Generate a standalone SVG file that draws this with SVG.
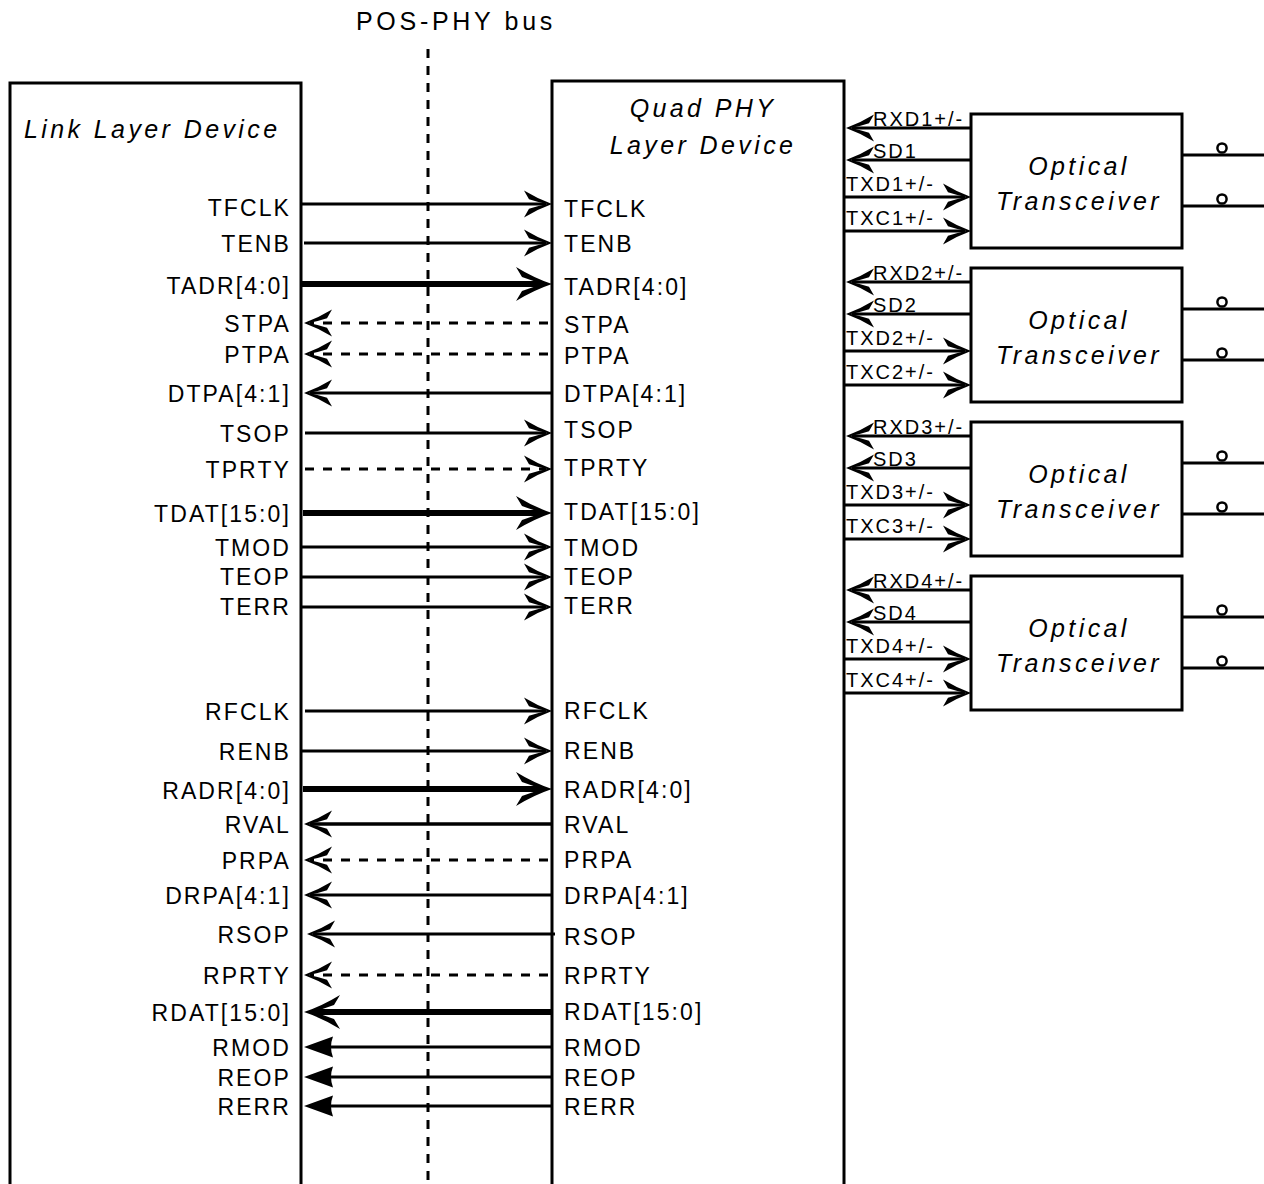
<svg xmlns="http://www.w3.org/2000/svg" width="1264" height="1184" viewBox="0 0 1264 1184">
<style>
text{font-family:"Liberation Sans",Arial,sans-serif;fill:#000}
.t{font-size:23px;letter-spacing:2.1px}
.l{text-anchor:end}
.ti{font-size:25px;font-style:italic;letter-spacing:3.4px}
.c{text-anchor:middle}
.s{font-size:20px;letter-spacing:2px}
.w{stroke:#000;stroke-width:3;fill:none}
.k{stroke-width:6}
.d{stroke-dasharray:9 9}
.box{fill:#fff;stroke:#000;stroke-width:3}
.ob{fill:#fff;stroke:#000;stroke-width:3}
.ring{fill:#fff;stroke:#000;stroke-width:2.5}
</style>
<defs>
<marker id="a" markerUnits="userSpaceOnUse" viewBox="-30 -15 38 30" refX="-6" refY="0" markerWidth="38" markerHeight="30" orient="auto"><path d="M0,0 Q-14,-5 -28,-13.5 L-23,-4.8 Q-13,-1.6 -5,0 Q-13,1.6 -23,4.8 L-28,13.5 Q-14,5 0,0Z"/></marker>
<marker id="b" markerUnits="userSpaceOnUse" viewBox="-38 -19 46 38" refX="-8" refY="0" markerWidth="46" markerHeight="38" orient="auto"><path d="M0,0 Q-18,-6 -36,-17 L-30,-7 Q-18,-2.5 -8,0 Q-18,2.5 -30,7 L-36,17 Q-18,6 0,0Z"/></marker>
<marker id="f" markerUnits="userSpaceOnUse" viewBox="-31 -12 39 24" refX="-6" refY="0" markerWidth="39" markerHeight="24" orient="auto"><path d="M0,0 L-29,-10.5 Q-25,0 -29,10.5Z"/></marker>
</defs>

<g id="bus">
<text x="456" y="30" text-anchor="middle" style="font-size:25px;letter-spacing:3.7px">POS-PHY bus</text>
<line x1="428" y1="49" x2="428" y2="1184" class="w" style="stroke-dasharray:9 8"/>
</g>

<g id="link-layer-device">
<rect class="box" x="10" y="83" width="291" height="1130"/>
<text class="ti" x="24" y="138">Link Layer Device</text>
</g>

<g id="quad-phy-layer-device">
<rect class="box" x="552" y="81" width="292" height="1132"/>
<text class="ti c" x="703" y="117">Quad PHY</text>
<text class="ti c" x="703" y="154">Layer Device</text>
</g>

<g id="optical-transceiver-1">
<rect class="ob" x="971" y="114" width="211" height="134"/>
<text class="ti c" x="1079" y="175">Optical</text>
<text class="ti c" x="1079" y="210">Transceiver</text>
</g>
<g id="optical-transceiver-2">
<rect class="ob" x="971" y="268" width="211" height="134"/>
<text class="ti c" x="1079" y="329">Optical</text>
<text class="ti c" x="1079" y="364">Transceiver</text>
</g>
<g id="optical-transceiver-3">
<rect class="ob" x="971" y="422" width="211" height="134"/>
<text class="ti c" x="1079" y="483">Optical</text>
<text class="ti c" x="1079" y="518">Transceiver</text>
</g>
<g id="optical-transceiver-4">
<rect class="ob" x="971" y="576" width="211" height="134"/>
<text class="ti c" x="1079" y="637">Optical</text>
<text class="ti c" x="1079" y="672">Transceiver</text>
</g>

<g id="connectors">
<line class="w" x1="302" y1="204" x2="546" y2="204" marker-end="url(#a)"/>
<line class="w" x1="304" y1="243" x2="546" y2="243" marker-end="url(#a)"/>
<line class="w k" x1="302" y1="284" x2="544" y2="284" marker-end="url(#b)"/>
<line class="w d" x1="548" y1="323" x2="310" y2="323" marker-end="url(#a)"/>
<line class="w d" x1="548" y1="354" x2="310" y2="354" marker-end="url(#a)"/>
<line class="w" x1="552" y1="393" x2="310" y2="393" marker-end="url(#a)"/>
<line class="w" x1="305" y1="433" x2="546" y2="433" marker-end="url(#a)"/>
<line class="w d" x1="305" y1="469" x2="546" y2="469" marker-end="url(#a)"/>
<line class="w k" x1="303" y1="513" x2="544" y2="513" marker-end="url(#b)"/>
<line class="w" x1="302" y1="547" x2="546" y2="547" marker-end="url(#a)"/>
<line class="w" x1="302" y1="577" x2="546" y2="577" marker-end="url(#a)"/>
<line class="w" x1="300" y1="607" x2="546" y2="607" marker-end="url(#a)"/>
<line class="w" x1="305" y1="711" x2="546" y2="711" marker-end="url(#a)"/>
<line class="w" x1="302" y1="751" x2="546" y2="751" marker-end="url(#a)"/>
<line class="w k" x1="303" y1="789" x2="544" y2="789" marker-end="url(#b)"/>
<line class="w" x1="552" y1="824" x2="310" y2="824" style="stroke-width:3.5" marker-end="url(#a)"/>
<line class="w d" x1="548" y1="860" x2="310" y2="860" marker-end="url(#a)"/>
<line class="w" x1="552" y1="895" x2="310" y2="895" marker-end="url(#a)"/>
<line class="w" x1="555" y1="934" x2="313" y2="934" marker-end="url(#a)"/>
<line class="w d" x1="548" y1="975" x2="310" y2="975" marker-end="url(#a)"/>
<line class="w k" x1="552" y1="1012" x2="312" y2="1012" marker-end="url(#b)"/>
<line class="w" x1="552" y1="1047" x2="310" y2="1047" marker-end="url(#f)"/>
<line class="w" x1="552" y1="1077" x2="310" y2="1077" marker-end="url(#f)"/>
<line class="w" x1="552" y1="1106" x2="310" y2="1106" marker-end="url(#f)"/>

<line class="w" x1="971" y1="128" x2="852" y2="128" marker-end="url(#a)"/>
<line class="w" x1="971" y1="160" x2="852" y2="160" marker-end="url(#a)"/>
<line class="w" x1="845" y1="197" x2="965" y2="197" marker-end="url(#a)"/>
<line class="w" x1="845" y1="231" x2="965" y2="231" marker-end="url(#a)"/>
<line class="w" x1="1182" y1="155" x2="1264" y2="155"/>
<line class="w" x1="1182" y1="206" x2="1264" y2="206"/>
<circle class="ring" cx="1222" cy="148" r="4.6"/>
<circle class="ring" cx="1222" cy="199" r="4.6"/>

<line class="w" x1="971" y1="282" x2="852" y2="282" marker-end="url(#a)"/>
<line class="w" x1="971" y1="314" x2="852" y2="314" marker-end="url(#a)"/>
<line class="w" x1="845" y1="351" x2="965" y2="351" marker-end="url(#a)"/>
<line class="w" x1="845" y1="385" x2="965" y2="385" marker-end="url(#a)"/>
<line class="w" x1="1182" y1="309" x2="1264" y2="309"/>
<line class="w" x1="1182" y1="360" x2="1264" y2="360"/>
<circle class="ring" cx="1222" cy="302" r="4.6"/>
<circle class="ring" cx="1222" cy="353" r="4.6"/>

<line class="w" x1="971" y1="436" x2="852" y2="436" marker-end="url(#a)"/>
<line class="w" x1="971" y1="468" x2="852" y2="468" marker-end="url(#a)"/>
<line class="w" x1="845" y1="505" x2="965" y2="505" marker-end="url(#a)"/>
<line class="w" x1="845" y1="539" x2="965" y2="539" marker-end="url(#a)"/>
<line class="w" x1="1182" y1="463" x2="1264" y2="463"/>
<line class="w" x1="1182" y1="514" x2="1264" y2="514"/>
<circle class="ring" cx="1222" cy="456" r="4.6"/>
<circle class="ring" cx="1222" cy="507" r="4.6"/>

<line class="w" x1="971" y1="590" x2="852" y2="590" marker-end="url(#a)"/>
<line class="w" x1="971" y1="622" x2="852" y2="622" marker-end="url(#a)"/>
<line class="w" x1="845" y1="659" x2="965" y2="659" marker-end="url(#a)"/>
<line class="w" x1="845" y1="693" x2="965" y2="693" marker-end="url(#a)"/>
<line class="w" x1="1182" y1="617" x2="1264" y2="617"/>
<line class="w" x1="1182" y1="668" x2="1264" y2="668"/>
<circle class="ring" cx="1222" cy="610" r="4.6"/>
<circle class="ring" cx="1222" cy="661" r="4.6"/>
</g>

<g id="link-signal-labels">
<text class="t l" x="291" y="216">TFCLK</text>
<text class="t l" x="291" y="252">TENB</text>
<text class="t l" x="291" y="294">TADR[4:0]</text>
<text class="t l" x="291" y="332">STPA</text>
<text class="t l" x="291" y="363">PTPA</text>
<text class="t l" x="291" y="402">DTPA[4:1]</text>
<text class="t l" x="291" y="442">TSOP</text>
<text class="t l" x="291" y="478">TPRTY</text>
<text class="t l" x="291" y="522">TDAT[15:0]</text>
<text class="t l" x="291" y="556">TMOD</text>
<text class="t l" x="291" y="585">TEOP</text>
<text class="t l" x="291" y="615">TERR</text>
<text class="t l" x="291" y="720">RFCLK</text>
<text class="t l" x="291" y="760">RENB</text>
<text class="t l" x="291" y="799">RADR[4:0]</text>
<text class="t l" x="291" y="833">RVAL</text>
<text class="t l" x="291" y="869">PRPA</text>
<text class="t l" x="291" y="904">DRPA[4:1]</text>
<text class="t l" x="291" y="943">RSOP</text>
<text class="t l" x="291" y="984">RPRTY</text>
<text class="t l" x="291" y="1021">RDAT[15:0]</text>
<text class="t l" x="291" y="1056">RMOD</text>
<text class="t l" x="291" y="1086">REOP</text>
<text class="t l" x="291" y="1115">RERR</text>
</g>

<g id="phy-signal-labels">
<text class="t" x="564" y="217">TFCLK</text>
<text class="t" x="564" y="252">TENB</text>
<text class="t" x="564" y="295">TADR[4:0]</text>
<text class="t" x="564" y="333">STPA</text>
<text class="t" x="564" y="364">PTPA</text>
<text class="t" x="564" y="402">DTPA[4:1]</text>
<text class="t" x="564" y="438">TSOP</text>
<text class="t" x="564" y="476">TPRTY</text>
<text class="t" x="564" y="520">TDAT[15:0]</text>
<text class="t" x="564" y="556">TMOD</text>
<text class="t" x="564" y="585">TEOP</text>
<text class="t" x="564" y="614">TERR</text>
<text class="t" x="564" y="719">RFCLK</text>
<text class="t" x="564" y="759">RENB</text>
<text class="t" x="564" y="798">RADR[4:0]</text>
<text class="t" x="564" y="833">RVAL</text>
<text class="t" x="564" y="868">PRPA</text>
<text class="t" x="564" y="904">DRPA[4:1]</text>
<text class="t" x="564" y="945">RSOP</text>
<text class="t" x="564" y="984">RPRTY</text>
<text class="t" x="564" y="1020">RDAT[15:0]</text>
<text class="t" x="564" y="1056">RMOD</text>
<text class="t" x="564" y="1086">REOP</text>
<text class="t" x="564" y="1115">RERR</text>
</g>

<g id="transceiver-signal-labels">
<text class="s" x="873" y="126">RXD1+/-</text>
<text class="s" x="873" y="158">SD1</text>
<text class="s" x="846" y="191">TXD1+/-</text>
<text class="s" x="846" y="225">TXC1+/-</text>
<text class="s" x="873" y="280">RXD2+/-</text>
<text class="s" x="873" y="312">SD2</text>
<text class="s" x="846" y="345">TXD2+/-</text>
<text class="s" x="846" y="379">TXC2+/-</text>
<text class="s" x="873" y="434">RXD3+/-</text>
<text class="s" x="873" y="466">SD3</text>
<text class="s" x="846" y="499">TXD3+/-</text>
<text class="s" x="846" y="533">TXC3+/-</text>
<text class="s" x="873" y="588">RXD4+/-</text>
<text class="s" x="873" y="620">SD4</text>
<text class="s" x="846" y="653">TXD4+/-</text>
<text class="s" x="846" y="687">TXC4+/-</text>
</g>
</svg>
